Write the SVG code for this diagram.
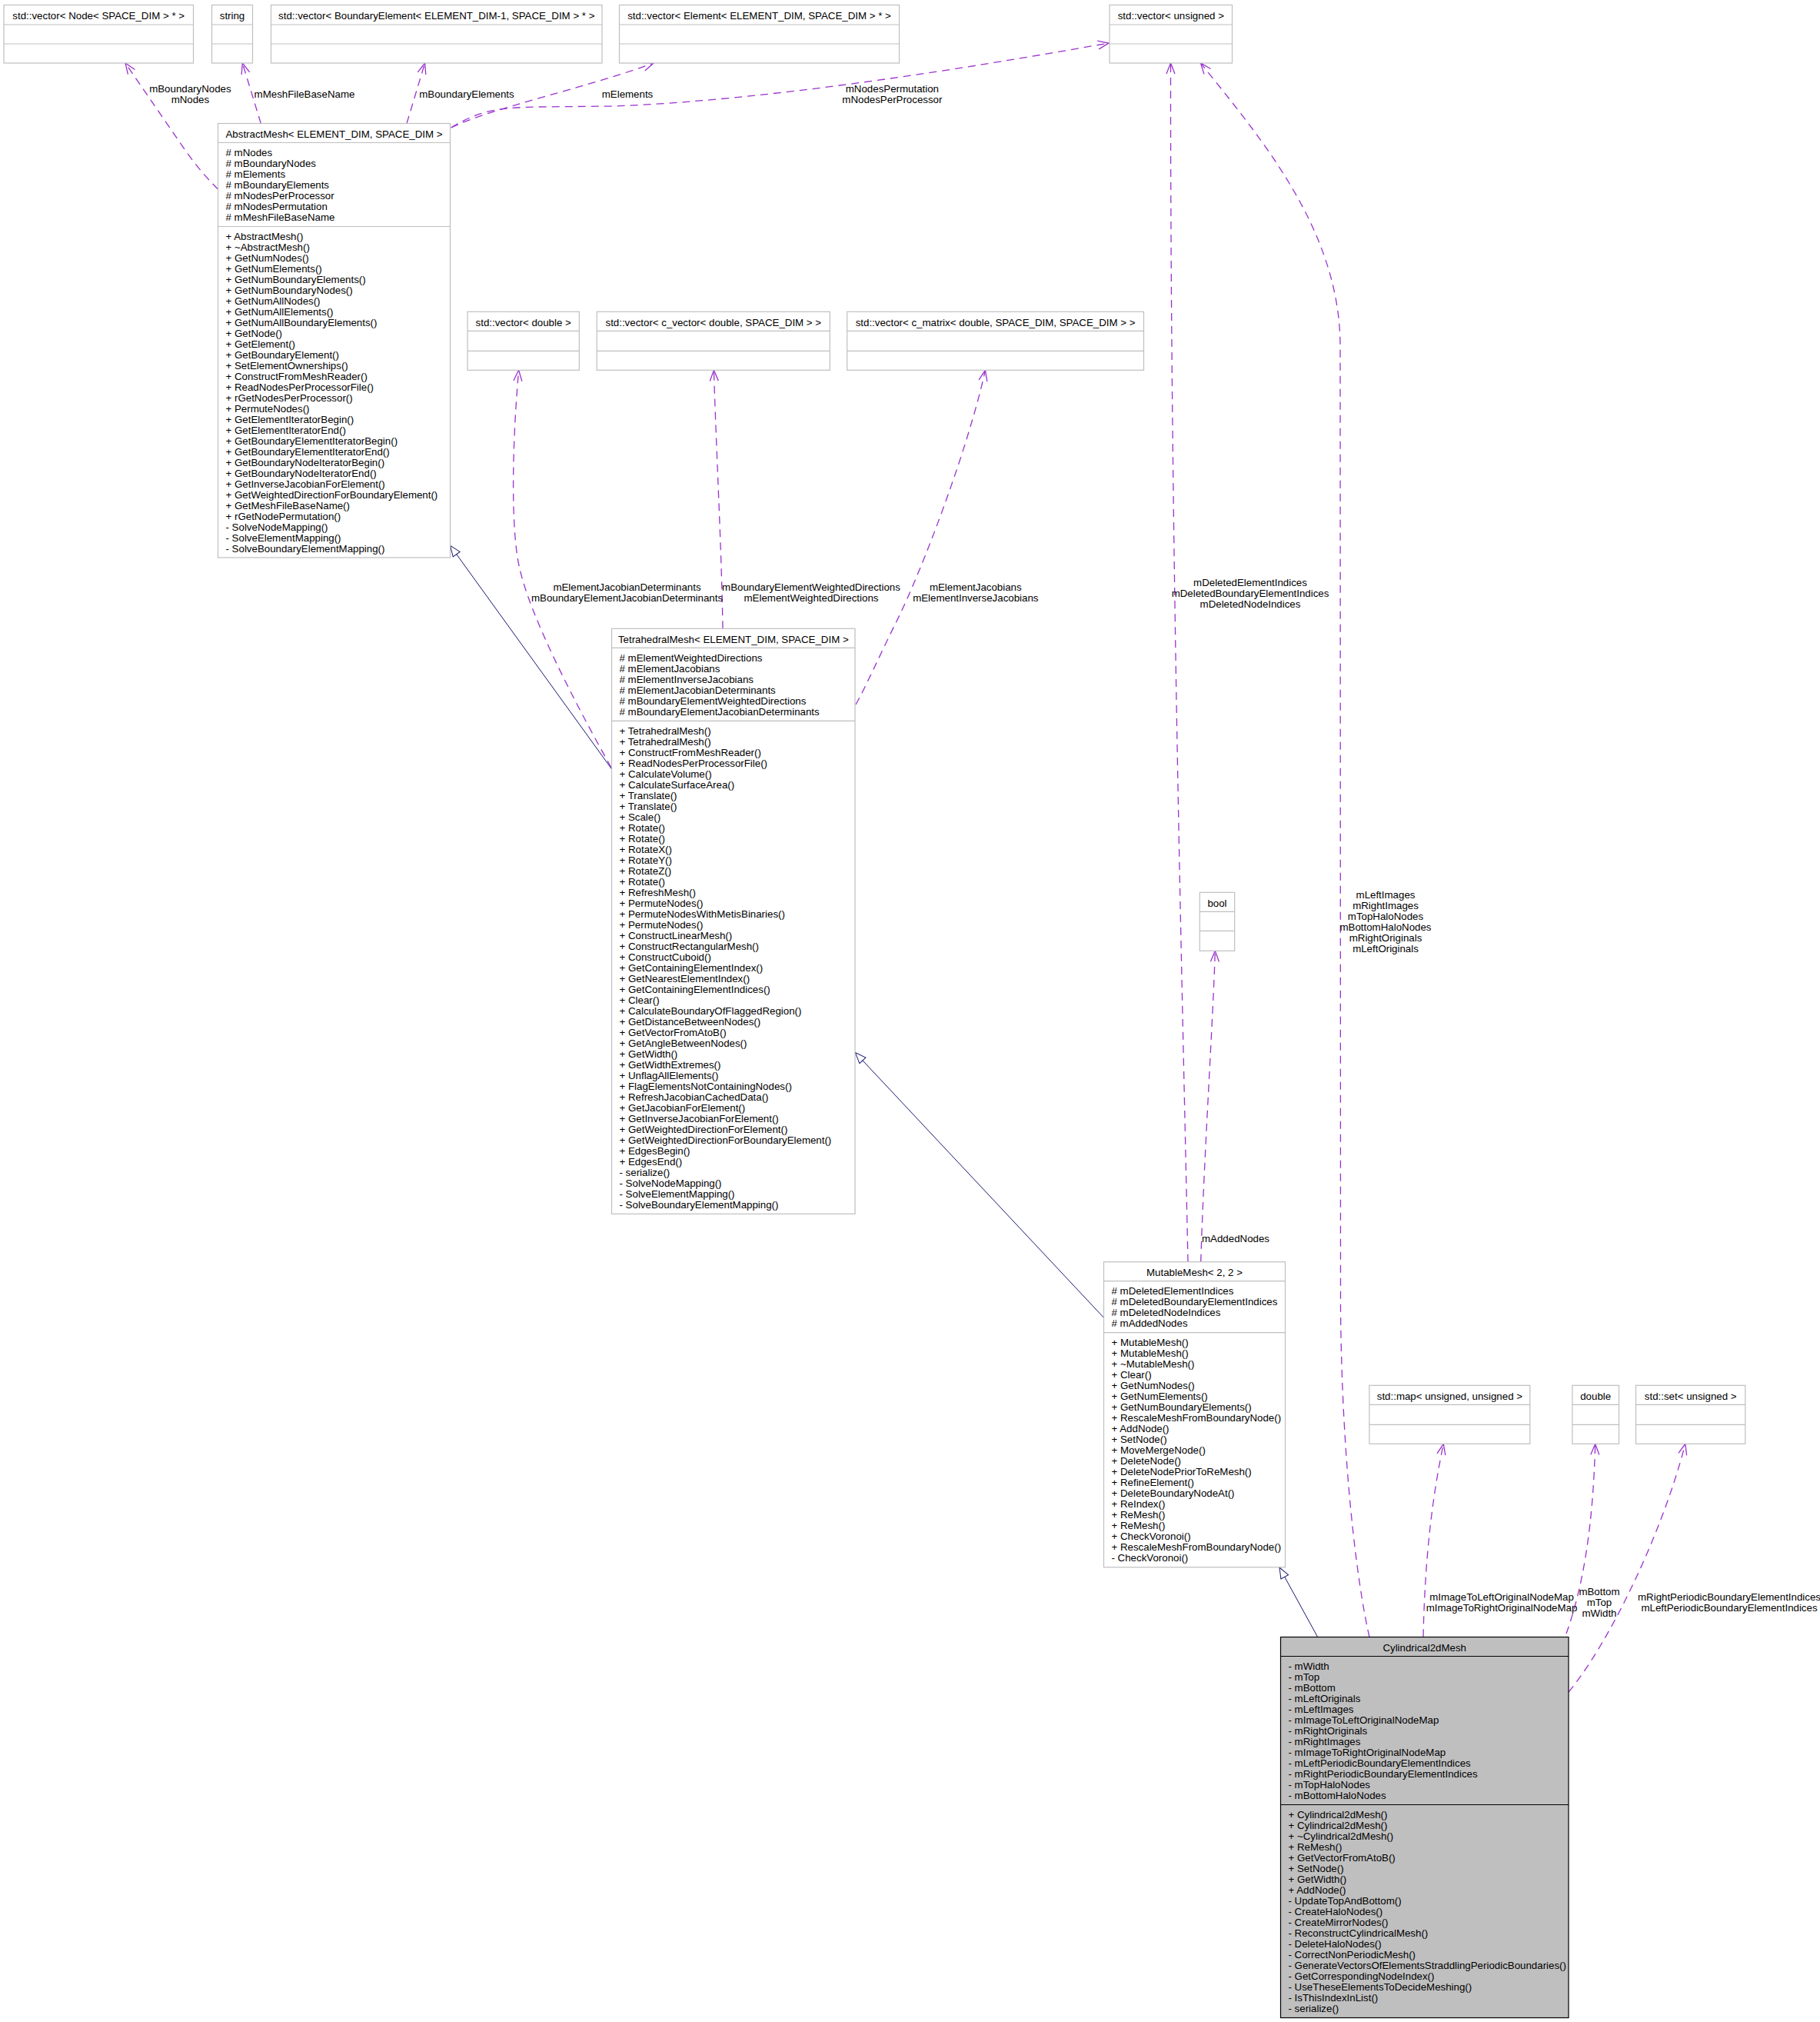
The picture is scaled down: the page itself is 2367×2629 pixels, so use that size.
<svg xmlns="http://www.w3.org/2000/svg" width="2367" height="2629" viewBox="0 0 2367 2629">
<style>
text { font-family: "Liberation Sans", Arial, sans-serif; font-size: 13.3px; fill: #000; }
.c { text-anchor: middle; }
.box { fill: #fff; stroke: #bfbfbf; stroke-width: 1.2; }
.sel { fill: #bfbfbf; stroke: #000; stroke-width: 1.2; }
.dv { stroke: #bfbfbf; stroke-width: 1.2; }
.dvs { stroke: #000; stroke-width: 1.2; }
.use { fill: none; stroke: #9a32cd; stroke-width: 1.3; stroke-dasharray: 10,7; marker-end: url(#open); }
.inh { fill: none; stroke: #191970; stroke-width: 1; marker-end: url(#tri); }
</style>
<defs>
<marker id="open" markerUnits="userSpaceOnUse" markerWidth="18" markerHeight="14" refX="14" refY="5.5" orient="auto" overflow="visible">
<path d="M0,0 L14,5.5 L0,11" fill="none" stroke="#9a32cd" stroke-width="1.3"/>
</marker>
<marker id="tri" markerUnits="userSpaceOnUse" markerWidth="18" markerHeight="14" refX="14" refY="5.5" orient="auto" overflow="visible">
<path d="M0,0 L14,5.5 L0,11 Z" fill="#fff" stroke="#191970" stroke-width="1"/>
</marker>
</defs>

<g id="connectors">
<!-- inheritance -->
<path class="inh" d="M795.6,1000 L585.5,709.3"/>
<path class="inh" d="M1435.3,1713 L1112.3,1368.6"/>
<path class="inh" d="M1713.4,2128 L1664,2038"/>
<!-- AbstractMesh usage -->
<path class="use" d="M283.5,246 Q262,225 242,197 L163,82"/>
<path class="use" d="M339.3,160.5 L315.3,82"/>
<path class="use" d="M529,160.5 L552.6,82"/>
<path class="use" d="M586.7,166 C640,140 760,115 850,82"/>
<path class="use" d="M586.7,166 C620,146 640,140 700,139 L800,138 C1000,130 1250,90 1442,56"/>
<!-- TetrahedralMesh usage -->
<path class="use" d="M795,998 C740,900 690,800 676,740 C664,690 666,580 674.6,481.3"/>
<path class="use" d="M940,817.3 C938,700 932,600 928.4,481.3"/>
<path class="use" d="M1113,916 C1125,895 1145,850 1165,810 C1200,740 1260,580 1281.4,481.3"/>
<!-- MutableMesh usage -->
<path class="use" d="M1545,1640.7 C1538,1300 1522,700 1522.5,82"/>
<path class="use" d="M1561.7,1640.7 C1566,1500 1578,1320 1580.3,1236.3"/>
<!-- Cylindrical2dMesh usage -->
<path class="use" d="M1781,2128.5 C1765,2060 1745,1900 1743.5,1700 L1743,450 C1743,300 1640,180 1561.5,82"/>
<path class="use" d="M1851,2128.5 C1853,2030 1862,1950 1877.3,1877.3"/>
<path class="use" d="M2037,2124 C2060,2060 2072,1980 2074.7,1877.3"/>
<path class="use" d="M2040,2200 C2090,2140 2160,2000 2191.8,1877.3"/>

<!-- edge labels -->
<text class="c" x="247.4" y="120">mBoundaryNodes</text>
<text class="c" x="247.4" y="134">mNodes</text>
<text class="c" x="396" y="127">mMeshFileBaseName</text>
<text class="c" x="607" y="127">mBoundaryElements</text>
<text class="c" x="816" y="127">mElements</text>
<text class="c" x="1160.4" y="120">mNodesPermutation</text>
<text class="c" x="1160.4" y="134">mNodesPerProcessor</text>
<text class="c" x="815.5" y="768">mElementJacobianDeterminants</text>
<text class="c" x="815.5" y="782">mBoundaryElementJacobianDeterminants</text>
<text class="c" x="1055" y="768">mBoundaryElementWeightedDirections</text>
<text class="c" x="1055" y="782">mElementWeightedDirections</text>
<text class="c" x="1268.8" y="768">mElementJacobians</text>
<text class="c" x="1268.8" y="782">mElementInverseJacobians</text>
<text class="c" x="1626" y="762">mDeletedElementIndices</text>
<text class="c" x="1626" y="776">mDeletedBoundaryElementIndices</text>
<text class="c" x="1626" y="790">mDeletedNodeIndices</text>
<text class="c" x="1607" y="1615">mAddedNodes</text>
<text class="c" x="1802" y="1167.7">mLeftImages</text>
<text class="c" x="1802" y="1181.7">mRightImages</text>
<text class="c" x="1802" y="1195.7">mTopHaloNodes</text>
<text class="c" x="1802" y="1209.7">mBottomHaloNodes</text>
<text class="c" x="1802" y="1223.7">mRightOriginals</text>
<text class="c" x="1802" y="1237.7">mLeftOriginals</text>
<text class="c" x="1953" y="2080.7">mImageToLeftOriginalNodeMap</text>
<text class="c" x="1953" y="2094.7">mImageToRightOriginalNodeMap</text>
<text class="c" x="2080" y="2073.7">mBottom</text>
<text class="c" x="2080" y="2087.7">mTop</text>
<text class="c" x="2080" y="2101.7">mWidth</text>
<text class="c" x="2249" y="2080.7">mRightPeriodicBoundaryElementIndices</text>
<text class="c" x="2249" y="2094.7">mLeftPeriodicBoundaryElementIndices</text>
</g>

<!-- top row type nodes -->
<g id="node-vector-node">
<rect class="box" x="5" y="6.5" width="246.5" height="75.5"/>
<line class="dv" x1="5" y1="32" x2="251.5" y2="32"/>
<line class="dv" x1="5" y1="57" x2="251.5" y2="57"/>
<text class="c" x="128.2" y="25">std::vector&lt; Node&lt; SPACE_DIM &gt; * &gt;</text>
</g>
<g id="node-string">
<rect class="box" x="275.5" y="6.5" width="53" height="75.5"/>
<line class="dv" x1="275.5" y1="32" x2="328.5" y2="32"/>
<line class="dv" x1="275.5" y1="57" x2="328.5" y2="57"/>
<text class="c" x="302" y="25">string</text>
</g>
<g id="node-vector-boundaryelement">
<rect class="box" x="352.5" y="6.5" width="430.5" height="75.5"/>
<line class="dv" x1="352.5" y1="32" x2="783" y2="32"/>
<line class="dv" x1="352.5" y1="57" x2="783" y2="57"/>
<text class="c" x="567.8" y="25">std::vector&lt; BoundaryElement&lt; ELEMENT_DIM-1, SPACE_DIM &gt; * &gt;</text>
</g>
<g id="node-vector-element">
<rect class="box" x="805.5" y="6.5" width="364" height="75.5"/>
<line class="dv" x1="805.5" y1="32" x2="1169.5" y2="32"/>
<line class="dv" x1="805.5" y1="57" x2="1169.5" y2="57"/>
<text class="c" x="987.5" y="25">std::vector&lt; Element&lt; ELEMENT_DIM, SPACE_DIM &gt; * &gt;</text>
</g>
<g id="node-vector-unsigned">
<rect class="box" x="1443" y="6.5" width="159.5" height="75.5"/>
<line class="dv" x1="1443" y1="32" x2="1602.5" y2="32"/>
<line class="dv" x1="1443" y1="57" x2="1602.5" y2="57"/>
<text class="c" x="1522.8" y="25">std::vector&lt; unsigned &gt;</text>
</g>

<!-- second row type nodes -->
<g id="node-vector-double">
<rect class="box" x="608" y="405.3" width="145.3" height="76"/>
<line class="dv" x1="608" y1="430.3" x2="753.3" y2="430.3"/>
<line class="dv" x1="608" y1="456.3" x2="753.3" y2="456.3"/>
<text class="c" x="680.7" y="423.8">std::vector&lt; double &gt;</text>
</g>
<g id="node-vector-cvector">
<rect class="box" x="776.2" y="405.3" width="303.1" height="76"/>
<line class="dv" x1="776.2" y1="430.3" x2="1079.3" y2="430.3"/>
<line class="dv" x1="776.2" y1="456.3" x2="1079.3" y2="456.3"/>
<text class="c" x="927.8" y="423.8">std::vector&lt; c_vector&lt; double, SPACE_DIM &gt; &gt;</text>
</g>
<g id="node-vector-cmatrix">
<rect class="box" x="1101.7" y="405.3" width="385.8" height="76"/>
<line class="dv" x1="1101.7" y1="430.3" x2="1487.5" y2="430.3"/>
<line class="dv" x1="1101.7" y1="456.3" x2="1487.5" y2="456.3"/>
<text class="c" x="1294.6" y="423.8">std::vector&lt; c_matrix&lt; double, SPACE_DIM, SPACE_DIM &gt; &gt;</text>
</g>

<g id="node-bool">
<rect class="box" x="1560.3" y="1160.3" width="45.4" height="76"/>
<line class="dv" x1="1560.3" y1="1185.3" x2="1605.7" y2="1185.3"/>
<line class="dv" x1="1560.3" y1="1210.3" x2="1605.7" y2="1210.3"/>
<text class="c" x="1583" y="1178.8">bool</text>
</g>
<g id="node-map">
<rect class="box" x="1780.9" y="1801.3" width="208.9" height="76"/>
<line class="dv" x1="1780.9" y1="1826.3" x2="1989.8" y2="1826.3"/>
<line class="dv" x1="1780.9" y1="1852.3" x2="1989.8" y2="1852.3"/>
<text class="c" x="1885.4" y="1819.8">std::map&lt; unsigned, unsigned &gt;</text>
</g>
<g id="node-double">
<rect class="box" x="2044.9" y="1801.3" width="60.6" height="76"/>
<line class="dv" x1="2044.9" y1="1826.3" x2="2105.5" y2="1826.3"/>
<line class="dv" x1="2044.9" y1="1852.3" x2="2105.5" y2="1852.3"/>
<text class="c" x="2075.2" y="1819.8">double</text>
</g>
<g id="node-set">
<rect class="box" x="2127.5" y="1801.3" width="142.3" height="76"/>
<line class="dv" x1="2127.5" y1="1826.3" x2="2269.8" y2="1826.3"/>
<line class="dv" x1="2127.5" y1="1852.3" x2="2269.8" y2="1852.3"/>
<text class="c" x="2198.7" y="1819.8">std::set&lt; unsigned &gt;</text>
</g>

<!-- AbstractMesh -->
<g id="node-abstractmesh">
<rect class="box" x="283.5" y="160.5" width="302" height="564.5"/>
<line class="dv" x1="283.5" y1="185.5" x2="585.5" y2="185.5"/>
<line class="dv" x1="283.5" y1="294.5" x2="585.5" y2="294.5"/>
<text class="c" x="434.5" y="179">AbstractMesh&lt; ELEMENT_DIM, SPACE_DIM &gt;</text>
<text x="293.5" y="203"><tspan x="293.5">#&#160;mNodes</tspan><tspan x="293.5" dy="14">#&#160;mBoundaryNodes</tspan><tspan x="293.5" dy="14">#&#160;mElements</tspan><tspan x="293.5" dy="14">#&#160;mBoundaryElements</tspan><tspan x="293.5" dy="14">#&#160;mNodesPerProcessor</tspan><tspan x="293.5" dy="14">#&#160;mNodesPermutation</tspan><tspan x="293.5" dy="14">#&#160;mMeshFileBaseName</tspan></text>
<text x="293.5" y="312"><tspan x="293.5">+ AbstractMesh()</tspan><tspan x="293.5" dy="14">+ ~AbstractMesh()</tspan><tspan x="293.5" dy="14">+ GetNumNodes()</tspan><tspan x="293.5" dy="14">+ GetNumElements()</tspan><tspan x="293.5" dy="14">+ GetNumBoundaryElements()</tspan><tspan x="293.5" dy="14">+ GetNumBoundaryNodes()</tspan><tspan x="293.5" dy="14">+ GetNumAllNodes()</tspan><tspan x="293.5" dy="14">+ GetNumAllElements()</tspan><tspan x="293.5" dy="14">+ GetNumAllBoundaryElements()</tspan><tspan x="293.5" dy="14">+ GetNode()</tspan><tspan x="293.5" dy="14">+ GetElement()</tspan><tspan x="293.5" dy="14">+ GetBoundaryElement()</tspan><tspan x="293.5" dy="14">+ SetElementOwnerships()</tspan><tspan x="293.5" dy="14">+ ConstructFromMeshReader()</tspan><tspan x="293.5" dy="14">+ ReadNodesPerProcessorFile()</tspan><tspan x="293.5" dy="14">+ rGetNodesPerProcessor()</tspan><tspan x="293.5" dy="14">+ PermuteNodes()</tspan><tspan x="293.5" dy="14">+ GetElementIteratorBegin()</tspan><tspan x="293.5" dy="14">+ GetElementIteratorEnd()</tspan><tspan x="293.5" dy="14">+ GetBoundaryElementIteratorBegin()</tspan><tspan x="293.5" dy="14">+ GetBoundaryElementIteratorEnd()</tspan><tspan x="293.5" dy="14">+ GetBoundaryNodeIteratorBegin()</tspan><tspan x="293.5" dy="14">+ GetBoundaryNodeIteratorEnd()</tspan><tspan x="293.5" dy="14">+ GetInverseJacobianForElement()</tspan><tspan x="293.5" dy="14">+ GetWeightedDirectionForBoundaryElement()</tspan><tspan x="293.5" dy="14">+ GetMeshFileBaseName()</tspan><tspan x="293.5" dy="14">+ rGetNodePermutation()</tspan><tspan x="293.5" dy="14">- SolveNodeMapping()</tspan><tspan x="293.5" dy="14">- SolveElementMapping()</tspan><tspan x="293.5" dy="14">- SolveBoundaryElementMapping()</tspan></text>
</g>

<!-- TetrahedralMesh -->
<g id="node-tetrahedralmesh">
<rect class="box" x="795.5" y="817.3" width="316.5" height="761"/>
<line class="dv" x1="795.5" y1="842.3" x2="1112" y2="842.3"/>
<line class="dv" x1="795.5" y1="937.3" x2="1112" y2="937.3"/>
<text class="c" x="953.8" y="835.8">TetrahedralMesh&lt; ELEMENT_DIM, SPACE_DIM &gt;</text>
<text x="805.5" y="859.8"><tspan x="805.5">#&#160;mElementWeightedDirections</tspan><tspan x="805.5" dy="14">#&#160;mElementJacobians</tspan><tspan x="805.5" dy="14">#&#160;mElementInverseJacobians</tspan><tspan x="805.5" dy="14">#&#160;mElementJacobianDeterminants</tspan><tspan x="805.5" dy="14">#&#160;mBoundaryElementWeightedDirections</tspan><tspan x="805.5" dy="14">#&#160;mBoundaryElementJacobianDeterminants</tspan></text>
<text x="805.5" y="954.8"><tspan x="805.5">+ TetrahedralMesh()</tspan><tspan x="805.5" dy="14">+ TetrahedralMesh()</tspan><tspan x="805.5" dy="14">+ ConstructFromMeshReader()</tspan><tspan x="805.5" dy="14">+ ReadNodesPerProcessorFile()</tspan><tspan x="805.5" dy="14">+ CalculateVolume()</tspan><tspan x="805.5" dy="14">+ CalculateSurfaceArea()</tspan><tspan x="805.5" dy="14">+ Translate()</tspan><tspan x="805.5" dy="14">+ Translate()</tspan><tspan x="805.5" dy="14">+ Scale()</tspan><tspan x="805.5" dy="14">+ Rotate()</tspan><tspan x="805.5" dy="14">+ Rotate()</tspan><tspan x="805.5" dy="14">+ RotateX()</tspan><tspan x="805.5" dy="14">+ RotateY()</tspan><tspan x="805.5" dy="14">+ RotateZ()</tspan><tspan x="805.5" dy="14">+ Rotate()</tspan><tspan x="805.5" dy="14">+ RefreshMesh()</tspan><tspan x="805.5" dy="14">+ PermuteNodes()</tspan><tspan x="805.5" dy="14">+ PermuteNodesWithMetisBinaries()</tspan><tspan x="805.5" dy="14">+ PermuteNodes()</tspan><tspan x="805.5" dy="14">+ ConstructLinearMesh()</tspan><tspan x="805.5" dy="14">+ ConstructRectangularMesh()</tspan><tspan x="805.5" dy="14">+ ConstructCuboid()</tspan><tspan x="805.5" dy="14">+ GetContainingElementIndex()</tspan><tspan x="805.5" dy="14">+ GetNearestElementIndex()</tspan><tspan x="805.5" dy="14">+ GetContainingElementIndices()</tspan><tspan x="805.5" dy="14">+ Clear()</tspan><tspan x="805.5" dy="14">+ CalculateBoundaryOfFlaggedRegion()</tspan><tspan x="805.5" dy="14">+ GetDistanceBetweenNodes()</tspan><tspan x="805.5" dy="14">+ GetVectorFromAtoB()</tspan><tspan x="805.5" dy="14">+ GetAngleBetweenNodes()</tspan><tspan x="805.5" dy="14">+ GetWidth()</tspan><tspan x="805.5" dy="14">+ GetWidthExtremes()</tspan><tspan x="805.5" dy="14">+ UnflagAllElements()</tspan><tspan x="805.5" dy="14">+ FlagElementsNotContainingNodes()</tspan><tspan x="805.5" dy="14">+ RefreshJacobianCachedData()</tspan><tspan x="805.5" dy="14">+ GetJacobianForElement()</tspan><tspan x="805.5" dy="14">+ GetInverseJacobianForElement()</tspan><tspan x="805.5" dy="14">+ GetWeightedDirectionForElement()</tspan><tspan x="805.5" dy="14">+ GetWeightedDirectionForBoundaryElement()</tspan><tspan x="805.5" dy="14">+ EdgesBegin()</tspan><tspan x="805.5" dy="14">+ EdgesEnd()</tspan><tspan x="805.5" dy="14">- serialize()</tspan><tspan x="805.5" dy="14">- SolveNodeMapping()</tspan><tspan x="805.5" dy="14">- SolveElementMapping()</tspan><tspan x="805.5" dy="14">- SolveBoundaryElementMapping()</tspan></text>
</g>

<!-- MutableMesh -->
<g id="node-mutablemesh">
<rect class="box" x="1435.5" y="1640.7" width="236" height="397"/>
<line class="dv" x1="1435.5" y1="1665.7" x2="1671.5" y2="1665.7"/>
<line class="dv" x1="1435.5" y1="1732.7" x2="1671.5" y2="1732.7"/>
<text class="c" x="1553.5" y="1659">MutableMesh&lt; 2, 2 &gt;</text>
<text x="1445.5" y="1683.2"><tspan x="1445.5">#&#160;mDeletedElementIndices</tspan><tspan x="1445.5" dy="14">#&#160;mDeletedBoundaryElementIndices</tspan><tspan x="1445.5" dy="14">#&#160;mDeletedNodeIndices</tspan><tspan x="1445.5" dy="14">#&#160;mAddedNodes</tspan></text>
<text x="1445.5" y="1750.2"><tspan x="1445.5">+ MutableMesh()</tspan><tspan x="1445.5" dy="14">+ MutableMesh()</tspan><tspan x="1445.5" dy="14">+ ~MutableMesh()</tspan><tspan x="1445.5" dy="14">+ Clear()</tspan><tspan x="1445.5" dy="14">+ GetNumNodes()</tspan><tspan x="1445.5" dy="14">+ GetNumElements()</tspan><tspan x="1445.5" dy="14">+ GetNumBoundaryElements()</tspan><tspan x="1445.5" dy="14">+ RescaleMeshFromBoundaryNode()</tspan><tspan x="1445.5" dy="14">+ AddNode()</tspan><tspan x="1445.5" dy="14">+ SetNode()</tspan><tspan x="1445.5" dy="14">+ MoveMergeNode()</tspan><tspan x="1445.5" dy="14">+ DeleteNode()</tspan><tspan x="1445.5" dy="14">+ DeleteNodePriorToReMesh()</tspan><tspan x="1445.5" dy="14">+ RefineElement()</tspan><tspan x="1445.5" dy="14">+ DeleteBoundaryNodeAt()</tspan><tspan x="1445.5" dy="14">+ ReIndex()</tspan><tspan x="1445.5" dy="14">+ ReMesh()</tspan><tspan x="1445.5" dy="14">+ ReMesh()</tspan><tspan x="1445.5" dy="14">+ CheckVoronoi()</tspan><tspan x="1445.5" dy="14">+ RescaleMeshFromBoundaryNode()</tspan><tspan x="1445.5" dy="14">- CheckVoronoi()</tspan></text>
</g>

<!-- Cylindrical2dMesh -->
<g id="node-cylindrical2dmesh">
<rect class="sel" x="1665.5" y="2128.5" width="374.5" height="495"/>
<line class="dvs" x1="1665.5" y1="2153.5" x2="2040" y2="2153.5"/>
<line class="dvs" x1="1665.5" y1="2346.5" x2="2040" y2="2346.5"/>
<text class="c" x="1852.7" y="2146.5">Cylindrical2dMesh</text>
<text x="1675.5" y="2171"><tspan x="1675.5">- mWidth</tspan><tspan x="1675.5" dy="14">- mTop</tspan><tspan x="1675.5" dy="14">- mBottom</tspan><tspan x="1675.5" dy="14">- mLeftOriginals</tspan><tspan x="1675.5" dy="14">- mLeftImages</tspan><tspan x="1675.5" dy="14">- mImageToLeftOriginalNodeMap</tspan><tspan x="1675.5" dy="14">- mRightOriginals</tspan><tspan x="1675.5" dy="14">- mRightImages</tspan><tspan x="1675.5" dy="14">- mImageToRightOriginalNodeMap</tspan><tspan x="1675.5" dy="14">- mLeftPeriodicBoundaryElementIndices</tspan><tspan x="1675.5" dy="14">- mRightPeriodicBoundaryElementIndices</tspan><tspan x="1675.5" dy="14">- mTopHaloNodes</tspan><tspan x="1675.5" dy="14">- mBottomHaloNodes</tspan></text>
<text x="1675.5" y="2364"><tspan x="1675.5">+ Cylindrical2dMesh()</tspan><tspan x="1675.5" dy="14">+ Cylindrical2dMesh()</tspan><tspan x="1675.5" dy="14">+ ~Cylindrical2dMesh()</tspan><tspan x="1675.5" dy="14">+ ReMesh()</tspan><tspan x="1675.5" dy="14">+ GetVectorFromAtoB()</tspan><tspan x="1675.5" dy="14">+ SetNode()</tspan><tspan x="1675.5" dy="14">+ GetWidth()</tspan><tspan x="1675.5" dy="14">+ AddNode()</tspan><tspan x="1675.5" dy="14">- UpdateTopAndBottom()</tspan><tspan x="1675.5" dy="14">- CreateHaloNodes()</tspan><tspan x="1675.5" dy="14">- CreateMirrorNodes()</tspan><tspan x="1675.5" dy="14">- ReconstructCylindricalMesh()</tspan><tspan x="1675.5" dy="14">- DeleteHaloNodes()</tspan><tspan x="1675.5" dy="14">- CorrectNonPeriodicMesh()</tspan><tspan x="1675.5" dy="14">- GenerateVectorsOfElementsStraddlingPeriodicBoundaries()</tspan><tspan x="1675.5" dy="14">- GetCorrespondingNodeIndex()</tspan><tspan x="1675.5" dy="14">- UseTheseElementsToDecideMeshing()</tspan><tspan x="1675.5" dy="14">- IsThisIndexInList()</tspan><tspan x="1675.5" dy="14">- serialize()</tspan></text>
</g>
</svg>
